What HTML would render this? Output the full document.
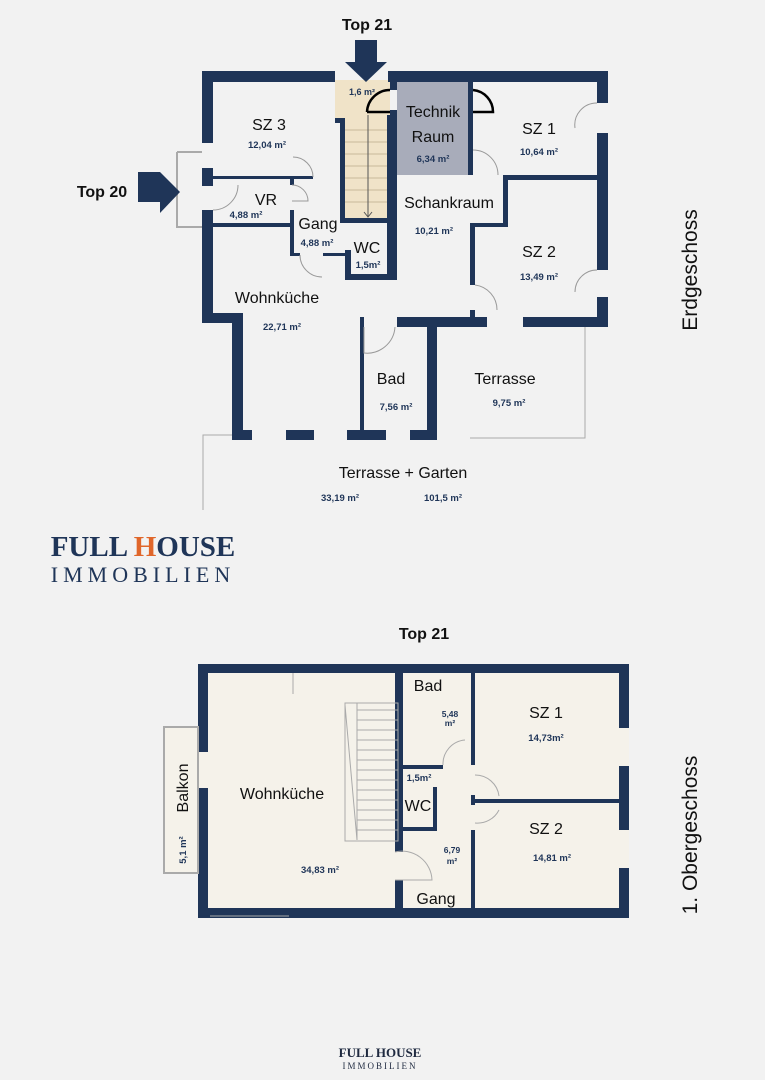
<!DOCTYPE html>
<html><head><meta charset="utf-8"><style>
html,body{margin:0;padding:0;background:#f2f2f2}
svg{display:block}
text{font-family:"Liberation Sans",sans-serif}
text.s{font-family:"Liberation Serif",serif}
.l{font-size:16px;fill:#111}
.a{font-size:9.5px;fill:#1f3558;font-weight:bold}
</style></head><body>
<svg width="765" height="1080" viewBox="0 0 765 1080" xmlns="http://www.w3.org/2000/svg">
<rect width="765" height="1080" fill="#f2f2f2"/>
<g fill="#1f3558">
<rect x="335" y="80" width="55" height="38" fill="#f0e3c8"/>
<rect x="345" y="118" width="42" height="105" fill="#f0e3c8"/>
<rect x="397" y="82" width="71" height="93" fill="#a8acba"/>
<rect x="202" y="71" width="133" height="11"/>
<rect x="388" y="71" width="220" height="11"/>
<rect x="202" y="71" width="11" height="72"/>
<rect x="202" y="168" width="11" height="18"/>
<rect x="202" y="210" width="11" height="107"/>
<rect x="202" y="313" width="41" height="10"/>
<rect x="232" y="313" width="11" height="127"/>
<rect x="232" y="430" width="20" height="10"/>
<rect x="286" y="430" width="28" height="10"/>
<rect x="347" y="430" width="39" height="10"/>
<rect x="410" y="430" width="27" height="10"/>
<rect x="597" y="71" width="11" height="32"/>
<rect x="597" y="133" width="11" height="137"/>
<rect x="597" y="297" width="11" height="30"/>
<rect x="523" y="317" width="85" height="10"/>
<rect x="397" y="317" width="90" height="10"/>
<rect x="360" y="317" width="4" height="123"/>
<rect x="427" y="317" width="10" height="123"/>
<rect x="387" y="115" width="10" height="165"/>
<rect x="335" y="118" width="10" height="5"/>
<rect x="340" y="118" width="5" height="105"/>
<rect x="345" y="218" width="42" height="5"/>
<rect x="345" y="250" width="6" height="30"/>
<rect x="345" y="274" width="52" height="6"/>
<rect x="213" y="176" width="100" height="3"/>
<rect x="213" y="223" width="79" height="4"/>
<rect x="290" y="177" width="4" height="8"/>
<rect x="290" y="210" width="4" height="45"/>
<rect x="290" y="253" width="10" height="3"/>
<rect x="323" y="253" width="22" height="3"/>
<rect x="468" y="82" width="5" height="93"/>
<rect x="503" y="175" width="105" height="5"/>
<rect x="503" y="175" width="5" height="48"/>
<rect x="470" y="223" width="38" height="4"/>
<rect x="470" y="223" width="5" height="62"/>
<rect x="470" y="310" width="5" height="17"/>
<rect x="390" y="82" width="7" height="8"/>
<rect x="390" y="110" width="7" height="8"/>
</g>
<g stroke="#c9b99a" stroke-width="1">
<line x1="345" y1="130" x2="387" y2="130"/><line x1="345" y1="142" x2="387" y2="142"/><line x1="345" y1="154" x2="387" y2="154"/><line x1="345" y1="166" x2="387" y2="166"/><line x1="345" y1="178" x2="387" y2="178"/><line x1="345" y1="190" x2="387" y2="190"/><line x1="345" y1="202" x2="387" y2="202"/>
</g>
<line x1="368" y1="115" x2="368" y2="217" stroke="#555"/>
<path d="M364 212 L368 217 L372 212" fill="none" stroke="#555"/>
<g fill="none" stroke="#999" stroke-width="1">
<path d="M213 210 A 25 25 0 0 0 238 185"/>
<path d="M313 177 A 20 20 0 0 0 293 157"/>
<path d="M292 185 A 16 16 0 0 1 308 201 L292 201"/>
<path d="M300 255 A 22 22 0 0 0 322 277"/>
<path d="M473 150 A 25 25 0 0 1 498 175"/>
<path d="M475 285 A 25 25 0 0 1 497 310"/>
<path d="M597 103 A 22 22 0 0 0 575 128"/>
<path d="M597 270 A 22 22 0 0 0 575 292"/>
<path d="M364 327 L364 353 A 28 28 0 0 0 395 327"/>
<path d="M177 152 L202 152 M177 152 L177 227 L202 227" stroke="#aaa" stroke-width="2"/>
<path d="M470 438 L585 438 L585 327" stroke="#aaa"/>
<path d="M203 510 L203 435 L232 435" stroke="#aaa"/>
</g>
<g fill="none" stroke="#000" stroke-width="2.5">
<path d="M367 112 A 23 23 0 0 1 390 90"/>
<path d="M473 90 A 22 22 0 0 1 493 112 L473 112"/>
<line x1="367" y1="112" x2="390" y2="112"/>
</g>
<g fill="#1f3558">
<rect x="355" y="40" width="22" height="22"/><polygon points="345,62 387,62 366,82"/>
<rect x="138" y="172" width="22" height="30"/><polygon points="160,172 180,192 160,213"/>
</g>
<text x="367" y="30" text-anchor="middle" font-weight="bold" font-size="16" fill="#111">Top 21</text>
<text x="102" y="197" text-anchor="middle" font-weight="bold" font-size="16" fill="#111">Top 20</text>
<text x="362" y="95" class="a" text-anchor="middle" style="font-size:9px">1,6 m²</text>
<text x="269" y="130" class="l" text-anchor="middle">SZ 3</text>
<text x="267" y="148" class="a" text-anchor="middle">12,04 m²</text>
<text x="433" y="117" class="l" text-anchor="middle">Technik</text>
<text x="433" y="142" class="l" text-anchor="middle">Raum</text>
<text x="433" y="162" class="a" text-anchor="middle">6,34 m²</text>
<text x="539" y="134" class="l" text-anchor="middle">SZ 1</text>
<text x="539" y="155" class="a" text-anchor="middle">10,64 m²</text>
<text x="266" y="205" class="l" text-anchor="middle">VR</text>
<text x="246" y="218" class="a" text-anchor="middle">4,88 m²</text>
<text x="318" y="229" class="l" text-anchor="middle">Gang</text>
<text x="317" y="246" class="a" text-anchor="middle">4,88 m²</text>
<text x="449" y="208" class="l" text-anchor="middle">Schankraum</text>
<text x="434" y="234" class="a" text-anchor="middle">10,21 m²</text>
<text x="367" y="253" class="l" text-anchor="middle">WC</text>
<text x="368" y="268" class="a" text-anchor="middle">1,5m²</text>
<text x="539" y="257" class="l" text-anchor="middle">SZ 2</text>
<text x="539" y="280" class="a" text-anchor="middle">13,49 m²</text>
<text x="277" y="303" class="l" text-anchor="middle">Wohnküche</text>
<text x="282" y="330" class="a" text-anchor="middle">22,71 m²</text>
<text x="391" y="384" class="l" text-anchor="middle">Bad</text>
<text x="396" y="410" class="a" text-anchor="middle">7,56 m²</text>
<text x="505" y="384" class="l" text-anchor="middle">Terrasse</text>
<text x="509" y="406" class="a" text-anchor="middle">9,75 m²</text>
<text x="403" y="478" class="l" text-anchor="middle">Terrasse + Garten</text>
<text x="340" y="501" class="a" text-anchor="middle">33,19 m²</text>
<text x="443" y="501" class="a" text-anchor="middle">101,5 m²</text>
<text transform="translate(697,270) rotate(-90)" text-anchor="middle" font-size="21" fill="#111">Erdgeschoss</text>
<text x="143" y="556" text-anchor="middle" class="s" font-weight="bold" font-size="29" fill="#1f3558">FULL <tspan fill="#e0662a">H</tspan>OUSE</text>
<text x="143" y="582" text-anchor="middle" class="s" font-size="22" fill="#1f3558" letter-spacing="5">IMMOBILIEN</text>
<text x="424" y="639" text-anchor="middle" font-weight="bold" font-size="16" fill="#111">Top 21</text>
<rect x="198" y="664" width="431" height="254" fill="#1f3558"/>
<rect x="208" y="673" width="411" height="235" fill="#f5f2ea"/>
<g fill="#1f3558">
<rect x="395" y="673" width="8" height="179"/>
<rect x="395" y="880" width="8" height="28"/>
<rect x="471" y="673" width="4" height="92"/>
<rect x="471" y="795" width="4" height="10"/>
<rect x="471" y="830" width="4" height="78"/>
<rect x="475" y="799" width="144" height="4"/>
<rect x="403" y="765" width="40" height="4"/>
<rect x="433" y="787" width="4" height="42"/>
<rect x="403" y="827" width="34" height="4"/>
</g>
<rect x="198" y="752" width="10" height="36" fill="#f5f2ea"/>
<rect x="619" y="728" width="10" height="38" fill="#f5f2ea"/>
<rect x="619" y="830" width="10" height="38" fill="#f5f2ea"/>
<rect x="164" y="727" width="34" height="146" fill="#f5f2ea" stroke="#aaa" stroke-width="2"/>
<g stroke="#aaa" fill="none" stroke-width="1">
<rect x="345" y="703" width="53" height="138"/>
<line x1="357" y1="703" x2="357" y2="840"/>
<path d="M357 710 L398 710 M357 720 L398 720 M357 730 L398 730 M357 740 L398 740 M357 750 L398 750 M357 760 L398 760 M357 770 L398 770 M357 780 L398 780 M357 790 L398 790 M357 800 L398 800 M357 810 L398 810 M357 820 L398 820 M357 830 L398 830"/>
<line x1="345" y1="705" x2="357" y2="840"/>
<path d="M443 765 A 24 24 0 0 1 465 740"/>
<path d="M475 775 A 24 24 0 0 1 499 796"/>
<path d="M475 823 A 24 24 0 0 0 499 810"/>
<path d="M395 852 A 30 30 0 0 1 432 880 L395 880"/>
<line x1="293" y1="673" x2="293" y2="694"/>
<line x1="210" y1="916" x2="289" y2="916"/>
</g>
<text x="428" y="691" class="l" text-anchor="middle">Bad</text>
<text x="450" y="717" class="a" text-anchor="middle" style="font-size:8.5px">5,48</text>
<text x="450" y="726" class="a" text-anchor="middle" style="font-size:8.5px">m²</text>
<text x="546" y="718" class="l" text-anchor="middle">SZ 1</text>
<text x="546" y="741" class="a" text-anchor="middle">14,73m²</text>
<text x="419" y="781" class="a" text-anchor="middle">1,5m²</text>
<text x="418" y="811" class="l" text-anchor="middle">WC</text>
<text x="452" y="853" class="a" text-anchor="middle" style="font-size:8.5px">6,79</text>
<text x="452" y="864" class="a" text-anchor="middle" style="font-size:8.5px">m²</text>
<text x="546" y="834" class="l" text-anchor="middle">SZ 2</text>
<text x="552" y="861" class="a" text-anchor="middle">14,81 m²</text>
<text x="282" y="799" class="l" text-anchor="middle">Wohnküche</text>
<text x="320" y="873" class="a" text-anchor="middle">34,83 m²</text>
<text x="436" y="904" class="l" text-anchor="middle">Gang</text>
<text transform="translate(188,788) rotate(-90)" class="l" text-anchor="middle">Balkon</text>
<text transform="translate(186,850) rotate(-90)" class="a" text-anchor="middle">5,1 m²</text>
<text transform="translate(697,835) rotate(-90)" text-anchor="middle" font-size="21" fill="#111">1. Obergeschoss</text>
<text x="380" y="1057" text-anchor="middle" class="s" font-weight="bold" font-size="13" fill="#1f2a40">FULL HOUSE</text>
<text x="380" y="1069" text-anchor="middle" class="s" font-size="9" fill="#1f2a40" letter-spacing="2">IMMOBILIEN</text>
</svg>
</body></html>
